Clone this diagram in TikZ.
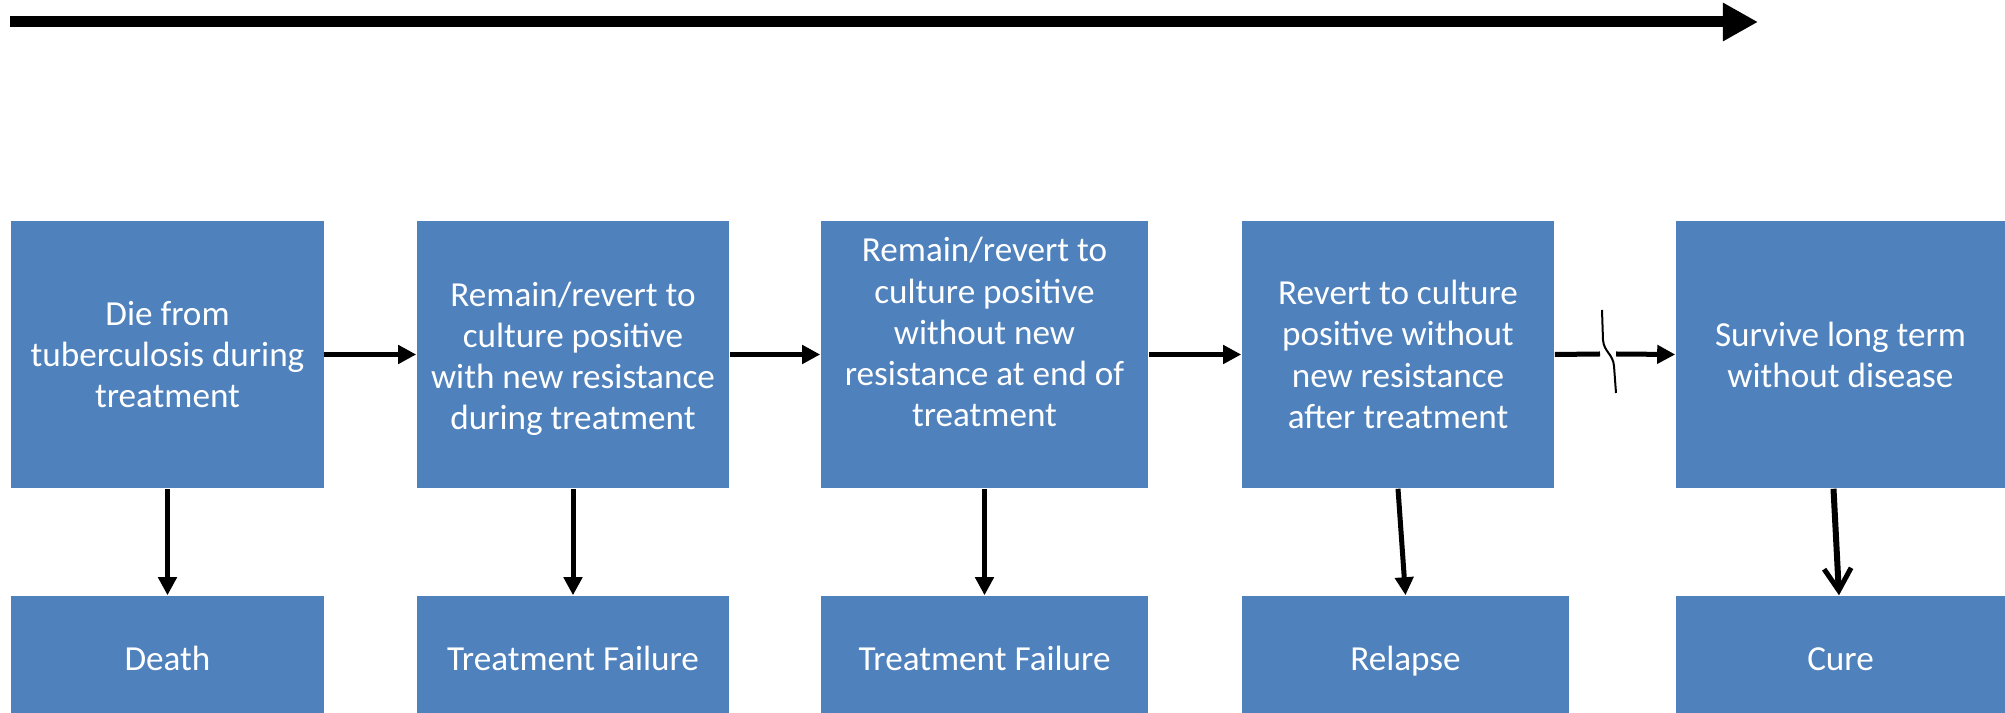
\documentclass[tikz,border=0pt]{standalone}
\usepackage{fontspec}
\setmainfont{Carlito}
\usepackage{xcolor}
\usetikzlibrary{arrows.meta}
\definecolor{boxblue}{HTML}{4F81BD}

\begin{document}
\begin{tikzpicture}[
    x=0.01cm, y=-0.01cm,
    stagebox/.style={fill=boxblue, draw=none, text=white, align=center, inner sep=0pt, minimum width=3.12cm, minimum height=2.67cm, font=\fontsize{10}{11.7}\selectfont},
    endbox/.style={stagebox, minimum height=1.25cm, text height=0.7em, text depth=0em},
    arr/.style={-{Triangle[length=0.18cm, width=0.18cm]}, line width=0.05cm},
    openarr/.style={-{Straight Barb[length=0.22cm, width=0.27cm, line width=0.05cm]}, line width=0.06cm},
    timearr/.style={-{Triangle[length=0.35cm, width=0.36cm]}, line width=0.11cm}
]
\useasboundingbox (0,0) rectangle (2005,713);
% Time axis
\coordinate (t0) at (10,22);
\coordinate (t1) at (1758,22);
\draw[timearr] (t0) -- (t1);
% --- Stages ---
\node[stagebox] (s1) at (167.5,354.5) {Die from\\tuberculosis during\\treatment};
\node[stagebox] (s2) at (573,354.5) {\raisebox{-0.05cm}[\height][\depth]{\begin{tabular}{@{}c@{}}Remain/revert to\\culture positive\\with new resistance\\during treatment\end{tabular}}};
\node[stagebox, minimum width=3.27cm] (s3) at (984.5,354.5) {\raisebox{0.185cm}[\height][\depth]{\begin{tabular}{@{}c@{}}Remain/revert to\\culture positive\\without new\\resistance at end of\\treatment\end{tabular}}};
\node[stagebox] (s4) at (1398,354.5) {Revert to culture\\positive without\\new resistance\\after treatment};
\node[stagebox, minimum width=3.29cm] (s5) at (1840.5,354.5) {Survive long term\\without disease};
% --- Outcomes ---
\node[endbox] (o1) at (167.5,658.5) {Death};
\node[endbox] (o2) at (573,658.5) {Treatment Failure};
\node[endbox, minimum width=3.27cm] (o3) at (984.5,658.5) {Treatment Failure};
\node[endbox, minimum width=3.27cm] (o4) at (1405.5,658.5) {Relapse};
\node[endbox, minimum width=3.29cm] (o5) at (1840.5,658.5) {Cure};
% --- Progression ---
\draw[arr] (s1) -- (s2);
\draw[arr] (s2) -- (s3);
\draw[arr] (s3) -- (s4);
\coordinate (brkL) at (1600,354);
\coordinate (brkR) at (1616,354);
\draw[line width=0.05cm] (s4.east) -- (brkL);
\draw[arr] (brkR) -- (s5.west);
\draw[line width=0.02cm] (1602,310) -- (1603,340) .. controls (1604,352) and (1613,354) .. (1614,366) -- (1616,393);
% --- Outcome arrows ---
\draw[arr] (s1) -- (o1);
\draw[arr] (s2) -- (o2);
\draw[arr] (s3) -- (o3);
\draw[arr] (s4.south) -- (o4.north);
\draw[openarr] ([xshift=-0.07cm]s5.south) -- ([xshift=-0.015cm]o5.north);
\end{tikzpicture}
\end{document}
